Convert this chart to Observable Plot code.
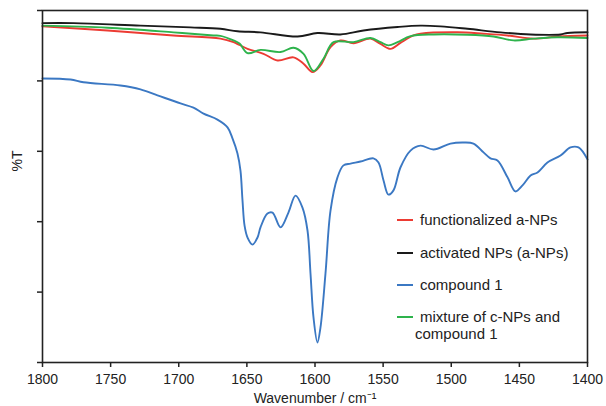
<!DOCTYPE html>
<html>
<head>
<meta charset="utf-8">
<script src="https://cdn.jsdelivr.net/npm/d3@7"></script>
<script src="https://cdn.jsdelivr.net/npm/@observablehq/plot@0.6"></script>
<style>
  html, body { margin: 0; padding: 0; background: #fff; }
  #wrap { position: relative; width: 606px; height: 406px; font-family: "Liberation Sans", Arial, Helvetica, sans-serif; color: #222; }
  #wrap svg { display: block; }
  .ylab { position: absolute; left: 17px; top: 161px; transform: translate(-50%, -50%) rotate(-90deg); font-size: 14px; white-space: nowrap; }
  .leg { position: absolute; left: 397px; font-size: 15px; line-height: 17px; white-space: nowrap; color: #222; }
  .leg .sw { display: inline-block; width: 16px; height: 2px; vertical-align: middle; margin-right: 7px; position: relative; top: -1px; }
  .leg .l2 { padding-left: 18px; }
</style>
</head>
<body>
<div id="wrap"></div>
<script>
// ---- data (wavenumber cm^-1, %T) ----
const xTicks = [1800, 1750, 1700, 1650, 1600, 1550, 1500, 1450, 1400];
const yTicks = [0, 20, 40, 60, 80, 100];

const compound1 = [
  [1800, 80.7], [1779.4, 80.4], [1769.9, 79.6], [1742.8, 78.7], [1728.1, 77.6],
  [1715.6, 75.9], [1698.7, 73.6], [1689.2, 72.4], [1681.8, 70.7], [1671.6, 69.0],
  [1664.2, 66.8], [1660.5, 63.6], [1656.9, 59.4], [1654.7, 54.5], [1653.2, 46.0],
  [1651.7, 38.9], [1649.5, 35.5], [1645.9, 33.5], [1642.2, 35.5], [1640.0, 38.4],
  [1634.9, 42.3], [1631.2, 42.6], [1625.3, 38.4], [1619.5, 42.6], [1614.3, 47.4],
  [1609.2, 44.0], [1605.5, 37.5], [1603.3, 25.3], [1601.1, 12.8], [1598.2, 5.7],
  [1596.0, 9.9], [1592.3, 25.3], [1588.6, 43.2], [1583.5, 52.6], [1579.1, 56.0],
  [1573.9, 56.5], [1566.6, 57.1], [1557.1, 58.0], [1553.4, 56.8], [1549.7, 51.7],
  [1546.1, 47.7], [1542.4, 48.9], [1537.3, 55.4], [1529.9, 60.2], [1522.6, 61.6],
  [1513.0, 60.5], [1500.6, 62.2], [1491.0, 62.5], [1483.7, 62.2], [1476.3, 59.7],
  [1471.2, 58.0], [1466.1, 57.4], [1458.7, 52.6], [1452.9, 48.6], [1447.7, 50.3],
  [1441.8, 53.1], [1436.7, 54.0], [1429.4, 56.8], [1419.8, 58.8], [1412.5, 61.1],
  [1406.6, 61.1], [1400, 57.7]
];

const activatedNPs = [
  [1800, 96.4], [1777.2, 96.4], [1728.1, 95.7], [1691.4, 95.2], [1669.4, 94.8],
  [1656.9, 94.1], [1640.0, 93.8], [1612.8, 92.6], [1598.2, 93.6], [1581.3, 93.2],
  [1564.4, 94.3], [1539.4, 95.3], [1522.6, 95.7], [1507.9, 95.5], [1488.1, 94.8],
  [1463.9, 93.8], [1441.8, 93.2], [1419.8, 93.2], [1414.7, 93.6], [1400, 93.8]
];

const mixture = [
  [1800, 95.7], [1752.3, 95.1], [1703.9, 93.8], [1674.5, 92.9], [1669.4, 92.8],
  [1659.8, 91.5], [1655.4, 90.6], [1649.5, 87.9], [1640.0, 88.8], [1625.3, 88.2],
  [1615.8, 89.4], [1608.4, 87.7], [1601.1, 82.8], [1593.8, 86.3], [1586.4, 91.0],
  [1571.7, 91.0], [1559.3, 92.2], [1551.9, 91.0], [1546.1, 90.1], [1539.4, 91.0],
  [1529.9, 92.7], [1513.0, 93.2], [1488.1, 93.1], [1469.0, 92.6], [1454.3, 91.5],
  [1439.6, 92.0], [1422.0, 92.4], [1400, 92.2]
];

const functionalized = [
  [1800, 95.5], [1752.3, 94.3], [1703.9, 92.9], [1669.4, 92.0], [1659.8, 91.0],
  [1655.4, 90.2], [1649.5, 89.1], [1637.8, 87.7], [1627.5, 85.8], [1615.8, 86.7],
  [1608.4, 84.9], [1601.8, 82.5], [1596.0, 84.4], [1588.6, 89.6], [1581.3, 91.5],
  [1571.7, 90.7], [1559.3, 92.0], [1551.9, 90.5], [1544.6, 89.1], [1537.3, 90.8],
  [1527.7, 92.9], [1522.6, 93.4], [1495.4, 93.8], [1476.3, 93.4], [1458.7, 92.9],
  [1439.6, 92.0], [1422.0, 92.6], [1400, 92.9]
];

const seriesNames = ["functionalized a-NPs", "activated NPs (a-NPs)", "compound 1", "mixture of c-NPs and compound 1"];
const seriesColors = ["#ec3b33", "#1a1a1a", "#3b78c3", "#2eb34c"];

const lineOpts = (color) => ({
  x: d => d[0], y: d => d[1], stroke: color, strokeWidth: 1.9, curve: "catmull-rom"
});

const chart = Plot.plot({
  width: 606,
  height: 406,
  marginLeft: 42,
  marginRight: 19,
  marginTop: 10,
  marginBottom: 44,
  style: { fontFamily: "'Liberation Sans', Arial, Helvetica, sans-serif", color: "#222", background: "#fff" },
  x: { domain: [1800, 1400] },
  y: { domain: [0, 100] },
  marks: [
    Plot.line(compound1, lineOpts(seriesColors[2])),
    Plot.line(functionalized, lineOpts(seriesColors[0])),
    Plot.line(mixture, lineOpts(seriesColors[3])),
    Plot.line(activatedNPs, lineOpts(seriesColors[1])),
    Plot.frame({ stroke: "#222", strokeWidth: 1.6 }),
    Plot.axisX({
      ticks: xTicks, tickSize: 5, tickPadding: 7, fontSize: 14, tickFormat: d => String(d),
      strokeWidth: 1.5,
      label: "Wavenumber / cm⁻¹", labelAnchor: "center", labelArrow: "none", labelOffset: 40
    }),
    Plot.axisY({ ticks: yTicks, tickSize: 5, tickFormat: () => "", strokeWidth: 1.5, label: null })
  ]
});

const wrap = document.getElementById("wrap");
wrap.appendChild(chart);

const ylab = document.createElement("div");
ylab.className = "ylab";
ylab.textContent = "%T";
wrap.appendChild(ylab);

// legend
const legendRows = [
  { i: 0, top: 219 },
  { i: 1, top: 252 },
  { i: 2, top: 284 },
  { i: 3, top: 316 }
];
legendRows.forEach(({ i, top }) => {
  const row = document.createElement("div");
  row.className = "leg";
  row.style.top = (top - 8.5) + "px";
  if (i === 3) {
    row.innerHTML = `<div><span class="sw" style="background:${seriesColors[i]}"></span>mixture of c-NPs and</div><div class="l2">compound 1</div>`;
  } else {
    row.innerHTML = `<span class="sw" style="background:${seriesColors[i]}"></span>${seriesNames[i]}`;
  }
  wrap.appendChild(row);
});
</script>
</body>
</html>
